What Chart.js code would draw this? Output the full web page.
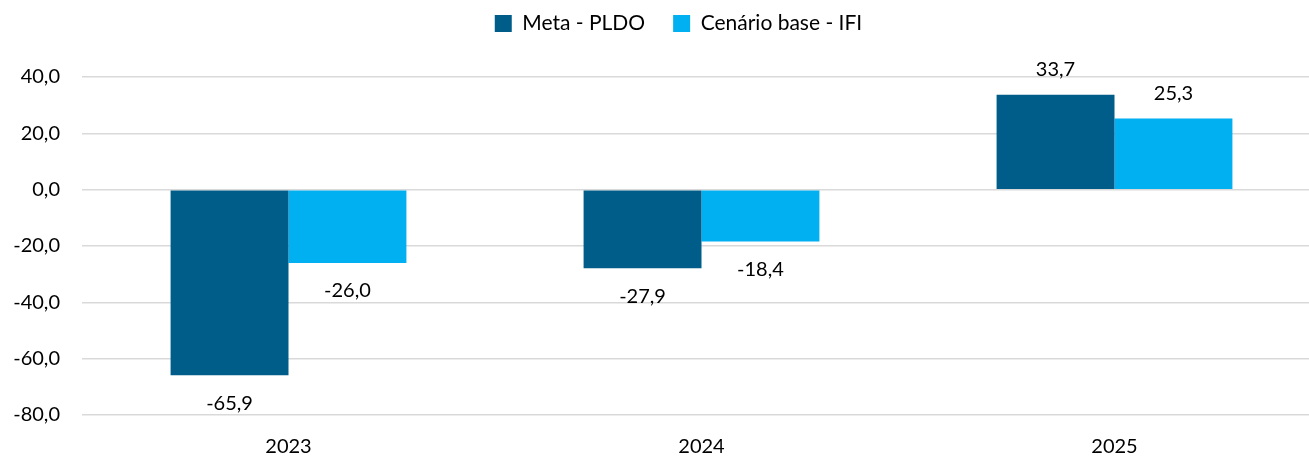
<!DOCTYPE html>
<html>
<head>
<meta charset="utf-8">
<script src="https://cdn.jsdelivr.net/npm/chart.js@4/dist/chart.umd.min.js"></script>
<style>
  html, body { margin: 0; padding: 0; background: #fff; }
  #wrap { width: 1309px; height: 457px; position: relative; }
</style>
</head>
<body>
<div id="wrap"><canvas id="chart"></canvas></div>
<script>
const years = ['2023', '2024', '2025'];
const metaPldo = [-65.9, -27.9, 33.7];
const cenarioIfi = [-26.0, -18.4, 25.3];
const seriesNames = ['Meta - PLDO', 'Cenário base - IFI'];
const yTicks = [-80, -60, -40, -20, 0, 20, 40];

const fontFamily = 'Lato, "Open Sans", sans-serif';

// formats numbers with comma decimal
function fmt(v) {
    return v.toFixed(1).replace('.', ',');
}

// draws the value above or below each bar
const barLabels = {
    id: 'barLabels',
    afterDatasetsDraw(chart) {
        const ctx = chart.ctx;
        ctx.save();
        ctx.font = '20px ' + fontFamily;
        ctx.fillStyle = '#000';
        ctx.textAlign = 'center';
        ctx.textBaseline = 'middle';
        chart.data.datasets.forEach((ds, i) => {
            chart.getDatasetMeta(i).data.forEach((bar, j) => {
                const v = ds.data[j];
                const y = v >= 0 ? bar.y - 25 : bar.y + 28;
                ctx.fillText(fmt(v), bar.x, y);
            });
        });
        ctx.restore();
    }
};

// leaves more room under the legend, nudges it right,
// and lets the category axis run a bit past the right edge
const layoutTweaks = {
    id: 'layoutTweaks',
    beforeLayout(chart) {
        const legend = chart.legend;
        if (legend && !legend._patched) {
            const fit = legend.fit;
            legend.fit = function() {
                fit.call(this);
                this.height = 92;
            };
            legend._patched = true;
        }
    },
    afterLayout(chart) {
        chart.legend.left += 24;
        chart.legend.right += 24;
        const x = chart.scales.x;
        x.right += 12;
        x.width += 12;
        x.configure();
    }
};

const chart = new Chart(document.getElementById('chart'), {
    type: 'bar',
    data: {
        labels: years,
        datasets: [{
            label: seriesNames[0],
            data: metaPldo,
            backgroundColor: '#005D89',
            categoryPercentage: 0.571,
            barPercentage: 1.0
        }, {
            label: seriesNames[1],
            data: cenarioIfi,
            backgroundColor: '#00B0F0',
            categoryPercentage: 0.571,
            barPercentage: 1.0
        }]
    },
    options: {
        responsive: true,
        maintainAspectRatio: false,
        animation: false,
        layout: { padding: { top: -15, right: 0, left: 0, bottom: 0 } },
        plugins: {
            legend: {
                position: 'top',
                labels: {
                    font: { size: 21, family: fontFamily },
                    color: '#000',
                    boxWidth: 17,
                    boxHeight: 17,
                    padding: 28
                }
            },
            tooltip: { enabled: false }
        },
        scales: {
            x: {
                grid: { display: false },
                border: { display: false },
                ticks: { font: { size: 20, family: fontFamily }, color: '#000', padding: 12 },
                afterFit(scale) { scale.height = 42; }
            },
            y: {
                min: -80,
                max: 40,
                afterBuildTicks(scale) {
                    scale.ticks = yTicks.map(v => ({ value: v }));
                },
                grid: { color: '#D9D9D9', lineWidth: 1.5, drawTicks: false },
                border: { display: false },
                ticks: {
                    font: { size: 20, family: fontFamily },
                    color: '#000',
                    padding: 22,
                    callback: v => fmt(v)
                },
                afterFit(scale) { scale.width = 82; }
            }
        }
    },
    plugins: [barLabels, layoutTweaks]
});
</script>
</body>
</html>
